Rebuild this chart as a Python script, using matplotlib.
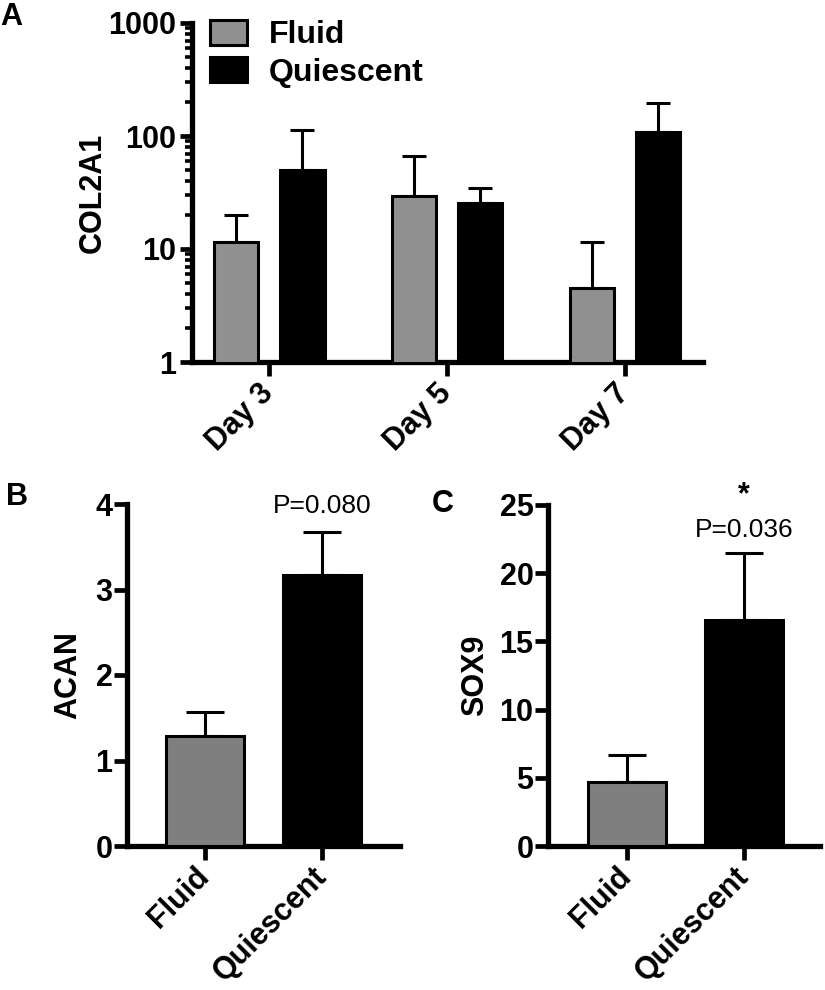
import matplotlib as mpl
mpl.use('Agg')
import matplotlib.pyplot as plt
import numpy as np

plt.rcParams['font.family'] = ['Liberation Sans', 'DejaVu Sans']
plt.rcParams['font.weight'] = 'bold'

# panel A - COL2A1 (log scale)
days = ['Day 3', 'Day 5', 'Day 7']
col2a1_fluid = [11.5, 29.5, 4.5]
col2a1_fluid_err = [8.5, 36.5, 7.0]
col2a1_quiescent = [50, 25.5, 108]
col2a1_quiescent_err = [63, 9.1, 87]

# panel B - ACAN
groups = ['Fluid', 'Quiescent']
acan = [1.29, 3.17]
acan_err = [0.28, 0.50]

# panel C - SOX9
sox9 = [4.7, 16.6]
sox9_err = [1.97, 4.9]

W, H = 825, 990
fig = plt.figure(figsize=(W / 100, H / 100), dpi=100)

def px_axes(l, t, r, b):
    return fig.add_axes([l / W, 1 - b / H, (r - l) / W, (b - t) / H])

gray_a = '#909090'
gray_bc = '#7f7f7f'
FS = 22

def style(ax):
    for s in ['top', 'right']:
        ax.spines[s].set_visible(False)
    for s in ['left', 'bottom']:
        ax.spines[s].set_linewidth(3.8)
    ax.tick_params(axis='both', which='major', width=3.4, length=9.5, labelsize=FS, pad=1)
    ax.tick_params(axis='x', which='major', length=10, pad=9)

# ---- A ----
axA = px_axes(192, 23, 703, 362)
x = np.arange(len(days))
off = 0.186
bw = 0.25
axA.bar(x - off, col2a1_fluid, bw, color=gray_a, edgecolor='black', linewidth=2.2, label='Fluid', zorder=3)
axA.bar(x + off, col2a1_quiescent, bw, color='black', edgecolor='black', linewidth=2.2, label='Quiescent', zorder=3)
axA.errorbar(x - off, col2a1_fluid, yerr=[np.zeros(3), col2a1_fluid_err], fmt='none',
             ecolor='black', elinewidth=2.2, capsize=8.5, capthick=2.2, zorder=2)
axA.errorbar(x + off, col2a1_quiescent, yerr=[np.zeros(3), col2a1_quiescent_err], fmt='none',
             ecolor='black', elinewidth=2.2, capsize=8.5, capthick=2.2, zorder=2)
axA.set_yscale('log')
axA.set_ylim(1, 1000)
axA.set_xlim(-0.435, 2.44)
axA.set_yticks([1, 10, 100, 1000])
axA.set_yticklabels(['1', '10', '100', '1000'])
axA.yaxis.set_minor_locator(mpl.ticker.LogLocator(base=10, subs=np.arange(2, 10)))
axA.yaxis.set_minor_formatter(mpl.ticker.NullFormatter())
style(axA)
axA.tick_params(axis='y', which='major', length=8.5, pad=3)
axA.tick_params(axis='y', which='minor', width=2.6, length=5)
axA.set_xticks(x)
axA.set_xticklabels(days, rotation=45, ha='right', va='center', rotation_mode='anchor')
axA.set_ylabel('COL2A1', fontsize=FS, fontweight='bold')
axA.yaxis.set_label_coords(-0.164, 0.5)
axA.legend(loc='upper left', bbox_to_anchor=(0.035, 1.01), frameon=False, fontsize=23,
           handlelength=1.15, handleheight=0.85, handletextpad=0.7, labelspacing=0.2,
           borderaxespad=0, borderpad=0)
fig.text(0 / W, 1 - 2 / H, 'A', fontsize=22, fontweight='bold', ha='left', va='top')

# ---- B ----
axB = px_axes(127, 504, 400, 846)
xb = np.arange(len(groups))
axB.bar(xb, acan, 0.66, color=[gray_bc, 'black'], edgecolor='black', linewidth=2.2, zorder=3)
axB.errorbar(xb, acan, yerr=[np.zeros(2), acan_err], fmt='none', ecolor='black',
             elinewidth=2.2, capsize=14, capthick=2.2, zorder=2)
axB.set_ylim(0, 4)
axB.set_xlim(-0.667, 1.667)
axB.set_yticks([0, 1, 2, 3, 4])
style(axB)
axB.set_xticks(xb)
axB.set_xticklabels(groups, rotation=45, ha='right', va='center', rotation_mode='anchor')
axB.set_ylabel('ACAN', fontsize=FS, fontweight='bold')
axB.yaxis.set_label_coords(-0.161, 0.5)
axB.text(1, 3.89, 'P=0.080', fontsize=19, fontweight='normal', ha='center', va='baseline')
fig.text(6 / W, 1 - 482 / H, 'B', fontsize=22, fontweight='bold', ha='left', va='top')

# ---- C ----
axC = px_axes(548, 505, 820, 846)
axC.bar(xb, sox9, 0.67, color=[gray_bc, 'black'], edgecolor='black', linewidth=2.2, zorder=3)
axC.errorbar(xb, sox9, yerr=[np.zeros(2), sox9_err], fmt='none', ecolor='black',
             elinewidth=2.2, capsize=14, capthick=2.2, zorder=2)
axC.set_ylim(0, 25)
axC.set_xlim(-0.675, 1.65)
axC.set_yticks([0, 5, 10, 15, 20, 25])
style(axC)
axC.set_xticks(xb)
axC.set_xticklabels(groups, rotation=45, ha='right', va='center', rotation_mode='anchor')
axC.set_ylabel('SOX9', fontsize=FS, fontweight='bold')
axC.yaxis.set_label_coords(-0.213, 0.5)
axC.text(1, 22.65, 'P=0.036', fontsize=19, fontweight='normal', ha='center', va='baseline')
axC.text(1, 25.1, '*', fontsize=22, fontweight='bold', ha='center', va='baseline')
fig.text(432 / W, 1 - 489 / H, 'C', fontsize=22, fontweight='bold', ha='left', va='top')

fig.savefig('out.png', dpi=100)
